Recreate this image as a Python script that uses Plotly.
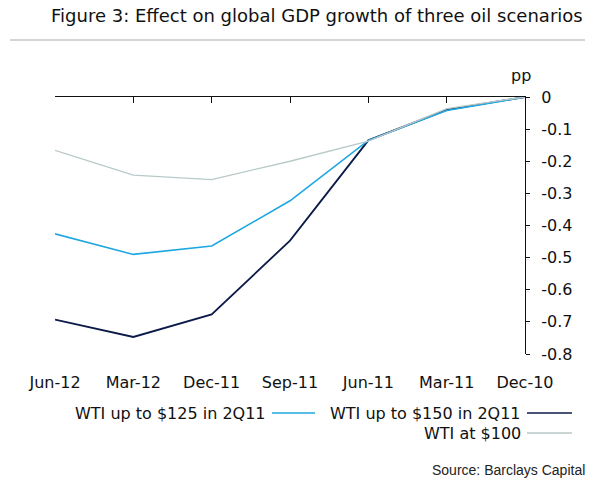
import plotly.graph_objects as go

categories = ["Dec-10", "Mar-11", "Jun-11", "Sep-11", "Dec-11", "Mar-12", "Jun-12"]
wti_150 = [0, -0.04, -0.135, -0.447, -0.677, -0.747, -0.693]
wti_125 = [0, -0.042, -0.135, -0.323, -0.464, -0.49, -0.426]
wti_100 = [0, -0.036, -0.137, -0.2, -0.257, -0.243, -0.166]
series_names = ["WTI up to $150 in 2Q11", "WTI up to $125 in 2Q11", "WTI at $100"]
series_colors = ["#0b1a47", "#1ea7e1", "#b9c9c9"]
series_widths = [1.8, 1.6, 1.3]
y_ticks = [0, -0.1, -0.2, -0.3, -0.4, -0.5, -0.6, -0.7, -0.8]
y_ticktext = ["0", "-0.1", "-0.2", "-0.3", "-0.4", "-0.5", "-0.6", "-0.7", "-0.8"]

W, H = 590, 486
L, R, T, B = 55, 65, 97, 132
PW, PH = W - L - R, H - T - B

def px(x):
    return (x - L) / PW

def py(y):
    return (H - B - y) / PH

FONT = "DejaVu Sans"

fig = go.Figure()
for name, vals, col, lw in zip(series_names, [wti_150, wti_125, wti_100], series_colors, series_widths):
    fig.add_trace(go.Scatter(x=categories, y=vals, mode="lines", name=name,
                             line=dict(color=col, width=lw), showlegend=False))
# invisible trace for the top axis
fig.add_trace(go.Scatter(x=categories, y=[None] * len(categories), xaxis="x2",
                         showlegend=False, hoverinfo="skip", mode="lines"))

fig.update_layout(
    width=W, height=H,
    margin=dict(l=L, r=R, t=T, b=B),
    paper_bgcolor="white", plot_bgcolor="white",
    font=dict(family=FONT, size=16, color="#111"),
    xaxis=dict(type="category", range=[6, 0], showline=False, showgrid=False,
               zeroline=False, ticks="", tickfont=dict(size=16, color="#111"),
               ticklabelstandoff=17),
    xaxis2=dict(type="category", overlaying="x", side="top", matches="x",
                showline=True, linecolor="#111", linewidth=1, ticks="inside",
                ticklen=6, tickcolor="#111", showticklabels=False, showgrid=False,
                zeroline=False),
    yaxis=dict(range=[-0.8, 0], side="right", showline=True, linecolor="#111",
               linewidth=1, ticks="outside", ticklen=4, tickcolor="#111",
               tickvals=y_ticks, ticktext=y_ticktext, showgrid=False, zeroline=False,
               tickfont=dict(size=16, color="#111"), ticklabelstandoff=8),
    showlegend=False,
)

annotations = [
    dict(text="Figure 3: Effect on global GDP growth of three oil scenarios",
         x=px(585), y=py(15), xref="paper", yref="paper", xanchor="right",
         yanchor="middle", showarrow=False, font=dict(size=18, color="#111", family=FONT)),
    dict(text="pp", x=px(521), y=py(75), xref="paper", yref="paper", xanchor="center",
         yanchor="middle", showarrow=False, font=dict(size=16, color="#111", family=FONT)),
    dict(text="Source: Barclays Capital", x=px(587), y=py(470), xref="paper", yref="paper",
         xanchor="right", yanchor="middle", showarrow=False,
         font=dict(size=14, color="#222", family="Liberation Sans")),
]
shapes = [
    dict(type="line", xref="paper", yref="paper", x0=px(10), x1=px(585), y0=py(40), y1=py(40),
         line=dict(color="#aaaaaa", width=1)),
]

# custom mirrored legend: text then line swatch
legend_pos = [(527, 572, 413), (272, 315, 413), (527, 572, 433)]
for name, col, (x0, x1, yy) in zip(series_names, series_colors, legend_pos):
    shapes.append(dict(type="line", xref="paper", yref="paper", x0=px(x0), x1=px(x1),
                       y0=py(yy), y1=py(yy), line=dict(color=col, width=1.5)))
    annotations.append(dict(text=name, x=px(x0 - 4), y=py(yy), xref="paper", yref="paper",
                            xanchor="right", yanchor="middle", showarrow=False,
                            font=dict(size=16, color="#111", family=FONT)))

fig.update_layout(annotations=annotations, shapes=shapes)
fig.write_html("out.html")
